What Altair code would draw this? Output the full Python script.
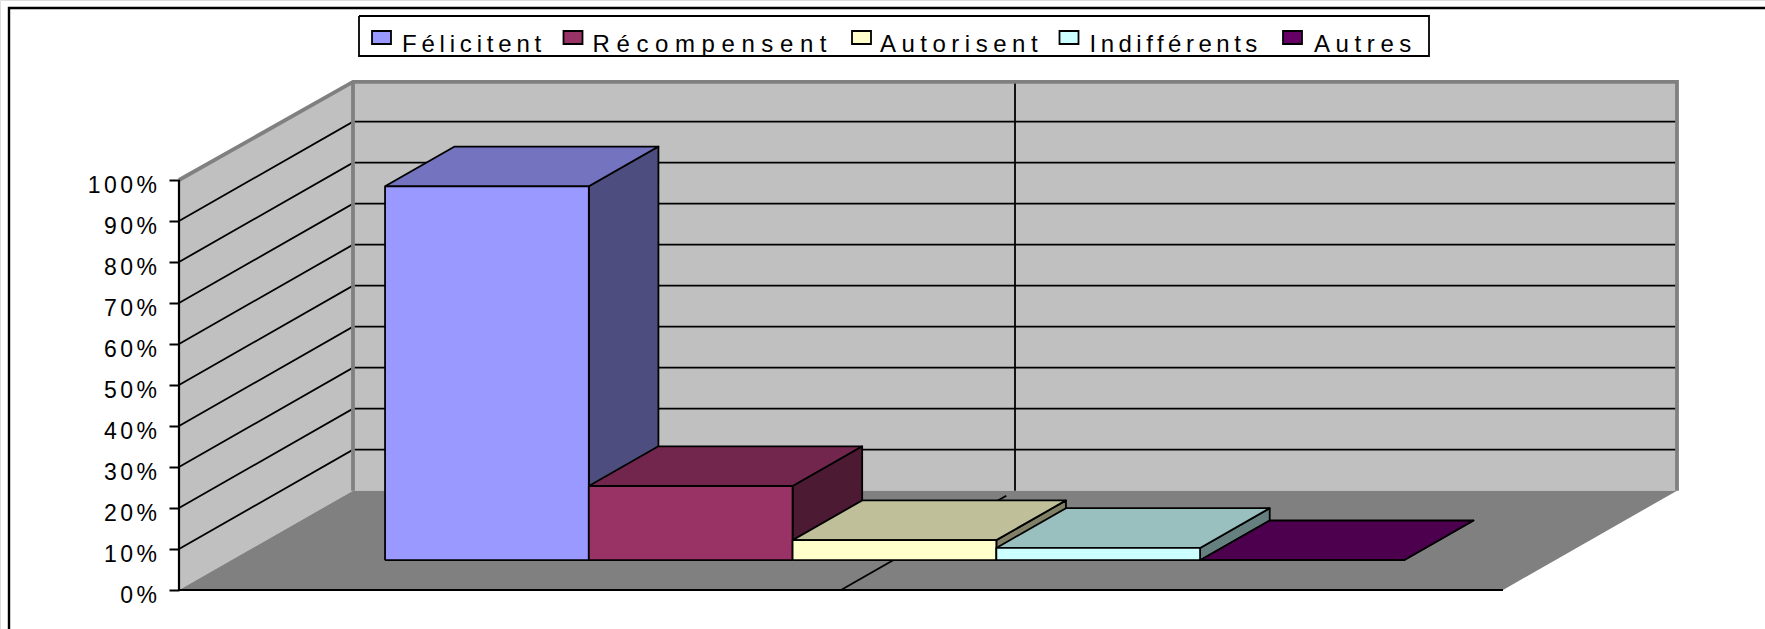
import altair as alt
import pandas as pd

# ---- data ----
categories = ["Félicitent", "Récompensent", "Autorisent", "Indifférents", "Autres"]
values = [91.2, 18.1, 4.9, 3.0, 0.0]
front_colors = ["#9999FF", "#993366", "#FFFFCC", "#CCFFFF", "#660066"]
top_colors = ["#7373BF", "#73264D", "#BFBF99", "#99BFBF", "#4D004D"]
side_colors = ["#4D4D80", "#4D1A33", "#808066", "#668080", "#330033"]
ticks = [0, 10, 20, 30, 40, 50, 60, 70, 80, 90, 100]
legend_text_x = [402, 592.5, 880, 1089.5, 1314]
legend_swatch_x = [372, 563.5, 852, 1059.5, 1283]
legend_tracking = [4.8, 6.6, 5.5, 4.5, 5.6]

# ---- page and oblique projection set-up ----
W, H = 1765, 629
AX0, AY0, AY100 = 179, 590, 180          # front-left corner of the value axis
FLOOR_W = 1324                           # width of the floor front edge
DEPTH_X, DEPTH_Y = 174, 99.3             # screen shift of the full chart depth
BAR_START, BAR_W = 0.1162, 0.1539        # in floor widths
BAR_D0, BAR_D1 = 0.30, 0.70              # bar depth span


def ypct(py):
    return (AY0 - py) / (AY0 - AY100) * 100


def proj(u, pct, d):
    """u along the floor (0-1), pct value, d depth (0-1) -> x px, y in pct units."""
    return AX0 + u * FLOOR_W + d * DEPTH_X, pct + ypct(AY0 - d * DEPTH_Y)


def table(shapes):
    rows = []
    for i, (pts, fill, stroke) in enumerate(shapes):
        for k, (x, y) in enumerate(pts):
            rows.append(dict(pid=f"p{i:03d}", k=k, x=x, pct=y, fill=fill, stroke=stroke))
    return pd.DataFrame(rows)


X = alt.X("x:Q", scale=alt.Scale(domain=[0, W], range=[0, W], nice=False, zero=False), axis=None)
Y = alt.Y(
    "pct:Q",
    scale=alt.Scale(domain=[ypct(H), ypct(0)], range=[H, 0], nice=False, zero=False),
    axis=alt.Axis(
        values=ticks, labelExpr="datum.value + '%'", title=None, domain=False, grid=False,
        offset=-AX0, tickSize=10, tickWidth=2, tickColor="black", labelPadding=9,
        labelFont="Liberation Sans", labelFontSize=23, labelColor="#000000", labelOffset=5,
        labelOverlap=False, labelFlush=False, zindex=1,
    ),
)


def layer(shapes, width, join="miter", cap="butt"):
    mark = alt.Chart(table(shapes)).mark_line(
        filled=True, strokeWidth=width, strokeJoin=join, strokeCap=cap, clip=False,
        interpolate="linear",
    )
    return mark.encode(
        x=X, y=Y,
        detail="pid:N",
        order="k:Q",
        fill=alt.Fill("fill:N", scale=None),
        stroke=alt.Stroke("stroke:N", scale=None),
    )


NOFILL = "transparent"
NOSTROKE = "transparent"

surfaces = [
    ([proj(0, 0, 0), proj(0, 0, 1), proj(0, 100, 1), proj(0, 100, 0), proj(0, 0, 0)], "#C0C0C0", NOSTROKE),
    ([proj(0, 0, 1), proj(1, 0, 1), proj(1, 100, 1), proj(0, 100, 1), proj(0, 0, 1)], "#C0C0C0", NOSTROKE),
    ([proj(0, 0, 0), proj(1, 0, 0), proj(1, 0, 1), proj(0, 0, 1), proj(0, 0, 0)], "#808080", NOSTROKE),
]

grid = []
for t in ticks[1:-1]:
    grid.append(([proj(0, t, 0), proj(0, t, 1), proj(1, t, 1)], NOFILL, "black"))
grid.append(([proj(0.5, 0, 0), proj(0.5, 0, 0.95)], NOFILL, "black"))
grid.append(([proj(0.5, 0, 1), proj(0.5, 99.5, 1)], NOFILL, "black"))

edges = [
    ([proj(0, 100, 0), proj(0, 99.7, 1), proj(1, 99.7, 1), proj(1, 0, 1)], NOFILL, "#808080"),
    ([proj(0, 99.7, 1), proj(0, 0, 1)], NOFILL, "#808080"),
]

bars = []
for i, v in enumerate(values):
    u0 = BAR_START + i * BAR_W
    u1 = u0 + BAR_W
    side = [proj(u1, 0, BAR_D0), proj(u1, 0, BAR_D1), proj(u1, v, BAR_D1), proj(u1, v, BAR_D0), proj(u1, 0, BAR_D0)]
    top = [proj(u0, v, BAR_D0), proj(u1, v, BAR_D0), proj(u1, v, BAR_D1), proj(u0, v, BAR_D1), proj(u0, v, BAR_D0)]
    front = [proj(u0, 0, BAR_D0), proj(u1, 0, BAR_D0), proj(u1, v, BAR_D0), proj(u0, v, BAR_D0), proj(u0, 0, BAR_D0)]
    bars += [(side, side_colors[i], "black"), (top, top_colors[i], "black"), (front, front_colors[i], "black")]

axes_lines = [
    ([proj(0, 100, 0), proj(0, 0, 0), proj(1, 0, 0)], NOFILL, "black"),
]

frame = [([(W + 5, ypct(8)), (9, ypct(8)), (9, ypct(H + 5))], NOFILL, "black")]
legend_box = [([(359, ypct(16)), (1429, ypct(16)), (1429, ypct(56)), (359, ypct(56)), (359, ypct(16))], "white", "black")]

swatches = pd.DataFrame({
    "x": legend_swatch_x,
    "x2": [s + 19 for s in legend_swatch_x],
    "pct": [ypct(44)] * 5,
    "pct2": [ypct(31)] * 5,
    "fill": front_colors,
})
legend_labels = pd.DataFrame({"x": legend_text_x, "pct": [ypct(52)] * 5, "label": categories})

swatch_layer = alt.Chart(swatches).mark_rect(stroke="black", strokeWidth=1.8).encode(
    x=X, x2="x2:Q", y=Y, y2="pct2:Q", fill=alt.Fill("fill:N", scale=None)
)
label_layer = alt.Chart(legend_labels).mark_text(
    align="left", baseline="alphabetic", font="Liberation Sans", fontSize=24, color="#000000"
).encode(x=X, y=Y, text="label:N")

CSS = "body{margin:0;overflow:hidden}.role-axis-label text{letter-spacing:3.5px}" + "".join(
    f".role-mark.mark-text text:nth-child({i + 1}){{letter-spacing:{t}px}}"
    for i, t in enumerate(legend_tracking)
)

chart = alt.layer(
    layer(frame, 2.4),
    layer(surfaces, 0),
    layer(grid, 1.8),
    layer(edges, 3.8),
    layer(bars, 1.8, join="round"),
    layer(axes_lines, 2.2),
    layer(legend_box, 1.8),
    swatch_layer,
    label_layer,
).properties(
    width=W,
    height=H,
    padding=0,
    autosize=alt.AutoSizeParams(type="none"),
).configure_view(stroke=None).configure(background="white")

chart.save("out.html", embed_options={"renderer": "svg", "actions": False, "defaultStyle": CSS})
